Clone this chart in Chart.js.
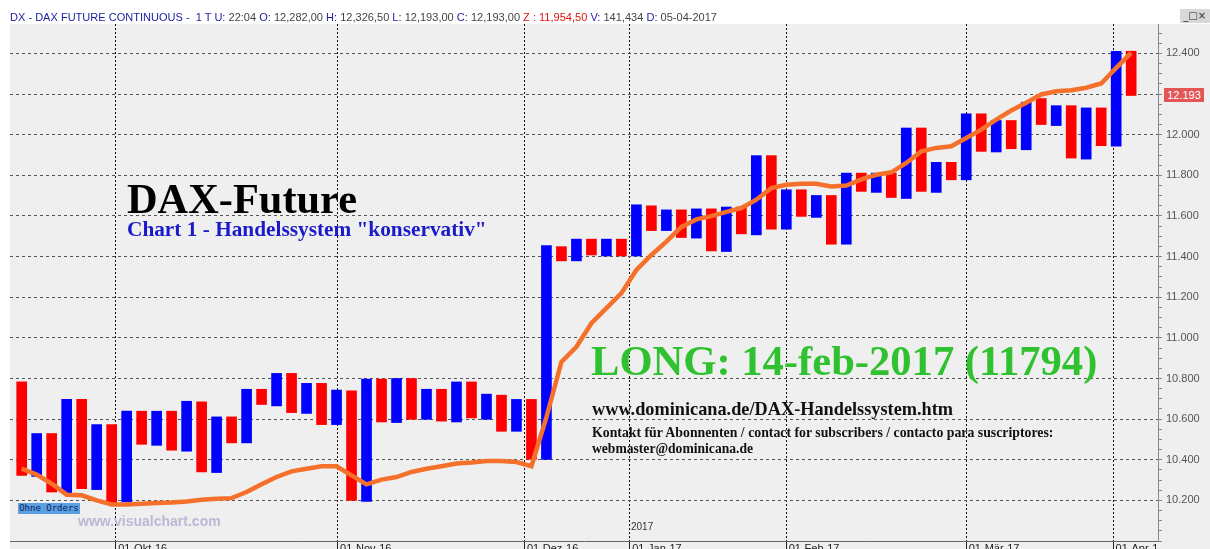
<!DOCTYPE html>
<html>
<head>
<meta charset="utf-8">
<script src="https://cdn.jsdelivr.net/npm/chart.js@4.4.1/dist/chart.umd.min.js"></script>
<style>
  html, body { margin: 0; padding: 0; width: 1210px; height: 549px; overflow: hidden; background: #fff; }
  #wrap { position: relative; width: 1210px; height: 549px; overflow: hidden; }
  #panel { position: absolute; left: 10px; top: 24px; width: 1200px; height: 540px; background: #efefef; }
  #c { position: absolute; left: 0; top: 0; }
  .txt { position: absolute; white-space: nowrap; line-height: 1; font-family: "Liberation Serif", "Times New Roman", serif; font-weight: bold; }
  #hdr { position: absolute; left: 10px; top: 11px; white-space: nowrap; font: 11px "Liberation Sans", sans-serif; color: #444; transform-origin: 0 0; }
  #hdr .k { color: #1c1ca0; }
  #hdr .r { color: #e01010; }
  #win { position: absolute; left: 1180px; top: 9px; width: 30px; height: 14px; background: #d8d8d8; font: 10px "DejaVu Sans", sans-serif; color: #333; line-height: 14px; }
  #orders { position: absolute; left: 18px; top: 503px; width: 62px; height: 11px; background: #5a9fe0; color: #0e2460; font: 9px "DejaVu Sans Mono", monospace; line-height: 11px; text-align: center; }
  #wm { position: absolute; left: 78px; top: 513px; font: bold 14px "Liberation Sans", sans-serif; color: #b9b9d6; }
  #yr { position: absolute; left: 631px; top: 521px; font: 10px "Liberation Sans", sans-serif; color: #333; }
  #last { position: absolute; left: 1164px; top: 88px; width: 40px; height: 14px; background: #e25656; color: #fff; font: 11px "Liberation Sans", sans-serif; line-height: 14px; text-align: center; }
</style>
</head>
<body>
<div id="wrap">
  <div id="panel"></div>
  <canvas id="c" width="1210" height="560"></canvas>
  <div id="hdr"><span class="k">DX - DAX FUTURE CONTINUOUS -&nbsp; 1 T U:</span> 22:04 <span class="k">O:</span> 12,282,00 <span class="k">H:</span> 12,326,50 <span class="k">L:</span> 12,193,00 <span class="k">C:</span> 12,193,00 <span class="r">Z : 11,954,50</span> <span class="k">V:</span> 141,434 <span class="k">D:</span> 05-04-2017</div>
  <div id="win">&nbsp;_&#9633;&#215;</div>
  <div class="txt" style="left:127px; top:178px; font-size:42.4px; color:#000;">DAX-Future</div>
  <div class="txt" style="left:127px; top:219px; font-size:21.3px; color:#1a1acc;">Chart 1 - Handelssystem "konservativ"</div>
  <div class="txt" style="left:591px; top:340px; font-size:42.6px; color:#2fc12f;">LONG: 14-feb-2017 (11794)</div>
  <div class="txt" style="left:592px; top:400px; font-size:18.3px; color:#111;">www.dominicana.de/DAX-Handelssystem.htm</div>
  <div class="txt" style="left:592px; top:426px; font-size:13.8px; color:#111;">Kontakt für Abonnenten / contact for subscribers / contacto para suscriptores:</div>
  <div class="txt" style="left:592px; top:442px; font-size:13.6px; color:#111;">webmaster@dominicana.de</div>
  <div id="orders">Ohne Orders</div>
  <div id="wm">www.visualchart.com</div>
  <div id="yr">2017</div>
  <div id="last">12.193</div>
</div>
<script>
// one bar per session, open -> close (red = down, blue = up)
const opens = [
  10783, 10318, 10529, 10236, 10698, 10253, 10573, 10192, 10639, 10471,
  10639, 10442, 10685, 10337, 10611, 10483, 10747, 10665, 10825, 10628,
  10776, 10573, 10739, 10195, 10797, 10583, 10800, 10599, 10747, 10586,
  10783, 10599, 10718, 10540, 10697, 10402, 11449, 11379, 11486, 11403,
  11486, 11403, 11650, 11528, 11630, 11491, 11635, 11425, 11644, 11507,
  11897, 11535, 11729, 11593, 11701, 11461, 11811, 11716, 11811, 11686,
  12033, 11716, 11864, 11778, 12103, 11915, 12070, 11926, 12178, 12045,
  12143, 11880, 12132, 11943, 12411
];
const closes = [
  10323, 10529, 10241, 10698, 10258, 10573, 10187, 10639, 10476, 10639,
  10447, 10688, 10340, 10611, 10483, 10747, 10672, 10825, 10632, 10776,
  10573, 10743, 10200, 10797, 10586, 10800, 10599, 10747, 10590, 10783,
  10606, 10723, 10540, 10697, 10402, 11454, 11379, 11486, 11408, 11486,
  11403, 11655, 11528, 11630, 11494, 11635, 11428, 11644, 11512, 11897,
  11535, 11729, 11598, 11701, 11461, 11811, 11721, 11811, 11691, 12033,
  11721, 11864, 11778, 12103, 11918, 12070, 11931, 12160, 12050, 12143,
  11885, 12132, 11946, 12411, 12193
];
// orange average line
const avg = [
  10356, 10327, 10282, 10228, 10225, 10200, 10180, 10180, 10183, 10187,
  10189, 10195, 10203, 10208, 10211, 10241, 10279, 10315, 10343, 10356,
  10368, 10368, 10323, 10279, 10302, 10315, 10340, 10356, 10368, 10381,
  10386, 10394, 10394, 10389, 10368, 10610, 10882, 10956, 11072, 11146,
  11220, 11334, 11408, 11474, 11546, 11583, 11599, 11620, 11639, 11680,
  11737, 11754, 11759, 11759, 11745, 11750, 11780, 11803, 11815, 11861,
  11918, 11935, 11943, 11984, 12025, 12074, 12119, 12157, 12198, 12214,
  12219, 12231, 12252, 12329, 12403
];
// month starts, in bar units
const monthPos = [6.29, 21.09, 33.55, 40.57, 51.01, 63.02, 72.81];
const monthLabels = ['01-Okt-16', '01-Nov-16', '01-Dez-16', '01-Jan-17', '01-Feb-17', '01-Mär-17', '01-Apr-1'];

const X_MIN = -0.78, X_MAX = 75.79;
const Y_MIN = 10000, Y_MAX = 12545;

function fmt(v) {
  return String(v).replace(/\B(?=(\d{3})+(?!\d))/g, '.');
}

function fitHeader() {
  const h = document.getElementById('hdr');
  const w = h.getBoundingClientRect().width;
  h.style.transform = 'scaleX(' + (707 / w) + ')';
}

function draw() {
  const ctx = document.getElementById('c').getContext('2d');
  const bars = opens.map((o, i) => ({ x: i, y: [o, closes[i]] }));
  const line = avg.map((v, i) => ({ x: i, y: v }));

  new Chart(ctx, {
    type: 'bar',
    data: {
      datasets: [
        {
          type: 'line',
          data: line,
          borderColor: '#f5702a',
          borderWidth: 4.5,
          pointRadius: 0,
          tension: 0,
          order: 0
        },
        {
          type: 'bar',
          data: bars,
          backgroundColor: opens.map((o, i) => o > closes[i] ? '#ff0000' : '#0000ff'),
          borderWidth: 0,
          barThickness: 10,
          order: 1
        }
      ]
    },
    options: {
      responsive: false,
      devicePixelRatio: 1,
      animation: false,
      layout: { padding: { left: 10, top: 24, right: 0, bottom: 0 } },
      plugins: { legend: { display: false }, tooltip: { enabled: false } },
      scales: {
        x: {
          type: 'linear',
          min: X_MIN,
          max: X_MAX,
          offset: false,
          bounds: 'data',
          afterBuildTicks: s => { s.ticks = monthPos.map(v => ({ value: v })); },
          afterFit: s => { s.height = 19; },
          ticks: {
            autoSkip: false,
            maxRotation: 0,
            align: 'start',
            padding: -8,
            color: '#222',
            font: { family: 'Liberation Sans', size: 11 },
            callback: (v, i) => '\u2009' + monthLabels[i]
          },
          grid: { offset: false, color: '#111', lineWidth: 1, tickLength: 9, tickColor: '#222' },
          border: { color: '#666', dash: [2, 2] }
        },
        y: {
          position: 'right',
          min: Y_MIN,
          max: Y_MAX,
          afterFit: s => { s.width = 52; },
          ticks: {
            stepSize: 50,
            autoSkip: false,
            includeBounds: false,
            padding: 4,
            color: '#555',
            font: { family: 'Liberation Sans', size: 11 },
            callback: v => (v % 200 === 0 && v > Y_MIN) ? fmt(v) : ''
          },
          grid: {
            color: c => (c.tick && c.tick.value % 200 === 0) ? '#555' : 'rgba(0,0,0,0)',
            tickLength: 4,
            tickColor: '#888'
          },
          border: { color: '#888', dash: [3, 3] }
        }
      }
    }
  });
}

document.addEventListener('DOMContentLoaded', () => {
  fitHeader();
  draw();
});
</script>
</body>
</html>
